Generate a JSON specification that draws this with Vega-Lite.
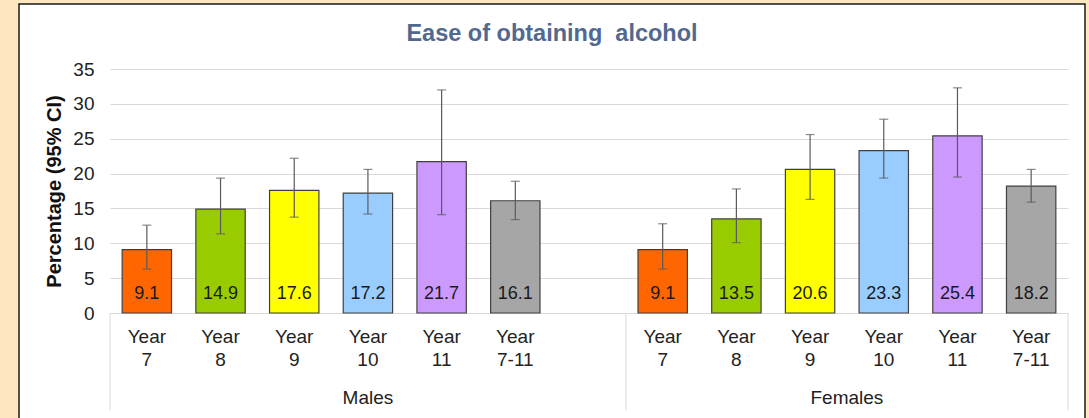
{
  "$schema": "https://vega.github.io/schema/vega-lite/v6.json",
  "width": 1066,
  "height": 420,
  "autosize": {"type": "none"},
  "padding": {"left": 19, "top": 4, "right": 4, "bottom": 0},
  "background": "#FEE7BE",
  "view": {"fill": "white", "stroke": "#1a1a1a", "strokeWidth": 1.5},
  "config": {"font": "Liberation Sans"},
  "title": {
    "text": "Ease of obtaining\u00a0 alcohol",
    "font": "Liberation Sans",
    "fontSize": 23.5,
    "fontWeight": "bold",
    "color": "#52698F",
    "anchor": "middle",
    "frame": "group",
    "baseline": "middle",
    "offset": -53
  },
  "data": {
    "values": [
      {"group": "Males", "year": "Year 7", "value": 9.1, "lo": 6.3, "hi": 12.6},
      {"group": "Males", "year": "Year 8", "value": 14.9, "lo": 11.35, "hi": 19.35},
      {"group": "Males", "year": "Year 9", "value": 17.6, "lo": 13.75, "hi": 22.2},
      {"group": "Males", "year": "Year 10", "value": 17.2, "lo": 14.2, "hi": 20.6},
      {"group": "Males", "year": "Year 11", "value": 21.7, "lo": 14.1, "hi": 32.0},
      {"group": "Males", "year": "Year 7-11", "value": 16.1, "lo": 13.4, "hi": 18.9},
      {"group": "Females", "year": "Year 7", "value": 9.1, "lo": 6.3, "hi": 12.8},
      {"group": "Females", "year": "Year 8", "value": 13.5, "lo": 10.1, "hi": 17.8},
      {"group": "Females", "year": "Year 9", "value": 20.6, "lo": 16.3, "hi": 25.6},
      {"group": "Females", "year": "Year 10", "value": 23.3, "lo": 19.35, "hi": 27.8},
      {"group": "Females", "year": "Year 11", "value": 25.4, "lo": 19.5, "hi": 32.3},
      {"group": "Females", "year": "Year 7-11", "value": 18.2, "lo": 15.9, "hi": 20.6}
    ]
  },
  "transform": [{"calculate": "datum.group + '|' + datum.year", "as": "cat"}],
  "layer": [
    {
      "mark": {"type": "bar", "width": {"band": 0.67}, "stroke": "#404040", "strokeWidth": 1.2},
      "encoding": {
        "x": {
          "field": "cat",
          "type": "nominal",
          "sort": null,
          "scale": {
            "domain": ["Males|Year 7", "Males|Year 8", "Males|Year 9", "Males|Year 10", "Males|Year 11", "Males|Year 7-11", "gap",
                       "Females|Year 7", "Females|Year 8", "Females|Year 9", "Females|Year 10", "Females|Year 11", "Females|Year 7-11"],
            "range": [91, 1049],
            "paddingInner": 0,
            "paddingOuter": 0
          },
          "axis": {
            "title": null,
            "orient": "bottom",
            "offset": -111,
            "labelExpr": "datum.value == 'gap' ? '' : split(split(datum.value, '|')[1], ' ')",
            "labelAngle": 0,
            "labelFontSize": 19,
            "labelLineHeight": 23,
            "labelPadding": 14,
            "labelColor": "#222222",
            "ticks": false,
            "domainColor": "#D9D9D9",
            "domainWidth": 1
          }
        },
        "y": {
          "field": "value",
          "type": "quantitative",
          "scale": {"domain": [0, 35], "range": [309, 65], "nice": false},
          "axis": {
            "title": "Percentage (95% CI)",
            "offset": -91,
            "values": [0, 5, 10, 15, 20, 25, 30, 35],
            "grid": true,
            "gridColor": "#D9D9D9",
            "domain": false,
            "ticks": false,
            "labelPadding": 16,
            "labelFontSize": 19,
            "labelColor": "#222222",
            "titleFontSize": 20,
            "titleFontWeight": "bold",
            "titleColor": "#111111",
            "titlePadding": 8
          }
        },
        "color": {
          "field": "year",
          "type": "nominal",
          "scale": {
            "domain": ["Year 7", "Year 8", "Year 9", "Year 10", "Year 11", "Year 7-11"],
            "range": ["#FF6600", "#99CC00", "#FFFF00", "#99CCFF", "#CC99FF", "#A6A6A6"]
          },
          "legend": null
        }
      }
    },
    {
      "mark": {"type": "rule", "color": "#5A5A5A", "strokeWidth": 1.2},
      "encoding": {
        "x": {"field": "cat", "type": "nominal"},
        "y": {"field": "lo", "type": "quantitative"},
        "y2": {"field": "hi"}
      }
    },
    {
      "mark": {"type": "tick", "orient": "horizontal", "color": "#5A5A5A", "size": 9, "thickness": 1.2},
      "encoding": {
        "x": {"field": "cat", "type": "nominal"},
        "y": {"field": "hi", "type": "quantitative"}
      }
    },
    {
      "mark": {"type": "tick", "orient": "horizontal", "color": "#5A5A5A", "size": 9, "thickness": 1.2},
      "encoding": {
        "x": {"field": "cat", "type": "nominal"},
        "y": {"field": "lo", "type": "quantitative"}
      }
    },
    {
      "mark": {"type": "text", "fontSize": 18, "color": "#1a1a1a", "baseline": "middle", "yOffset": -19},
      "encoding": {
        "x": {"field": "cat", "type": "nominal"},
        "y": {"datum": 0},
        "text": {"field": "value", "type": "quantitative", "format": ".1f"}
      }
    },
    {
      "transform": [{"filter": "datum.year == 'Year 7'"}],
      "mark": {"type": "rule", "color": "#D9D9D9", "strokeWidth": 1, "y2Offset": 97},
      "encoding": {
        "x": {"field": "cat", "type": "nominal", "bandPosition": 0},
        "y": {"datum": 0},
        "y2": {"datum": 0}
      }
    },
    {
      "transform": [{"filter": "datum.cat == 'Females|Year 7-11'"}],
      "mark": {"type": "rule", "color": "#D9D9D9", "strokeWidth": 1, "y2Offset": 97},
      "encoding": {
        "x": {"field": "cat", "type": "nominal", "bandPosition": 1},
        "y": {"datum": 0},
        "y2": {"datum": 0}
      }
    },
    {
      "transform": [{"filter": "datum.cat == 'Males|Year 10'"}],
      "mark": {"type": "text", "fontSize": 19, "color": "#222222", "baseline": "middle", "yOffset": 85},
      "encoding": {
        "x": {"field": "cat", "type": "nominal", "bandPosition": 0.5},
        "y": {"datum": 0},
        "text": {"field": "group"}
      }
    },
    {
      "transform": [{"filter": "datum.cat == 'Females|Year 10'"}],
      "mark": {"type": "text", "fontSize": 19, "color": "#222222", "baseline": "middle", "yOffset": 85},
      "encoding": {
        "x": {"field": "cat", "type": "nominal", "bandPosition": 0},
        "y": {"datum": 0},
        "text": {"field": "group"}
      }
    }
  ]
}
